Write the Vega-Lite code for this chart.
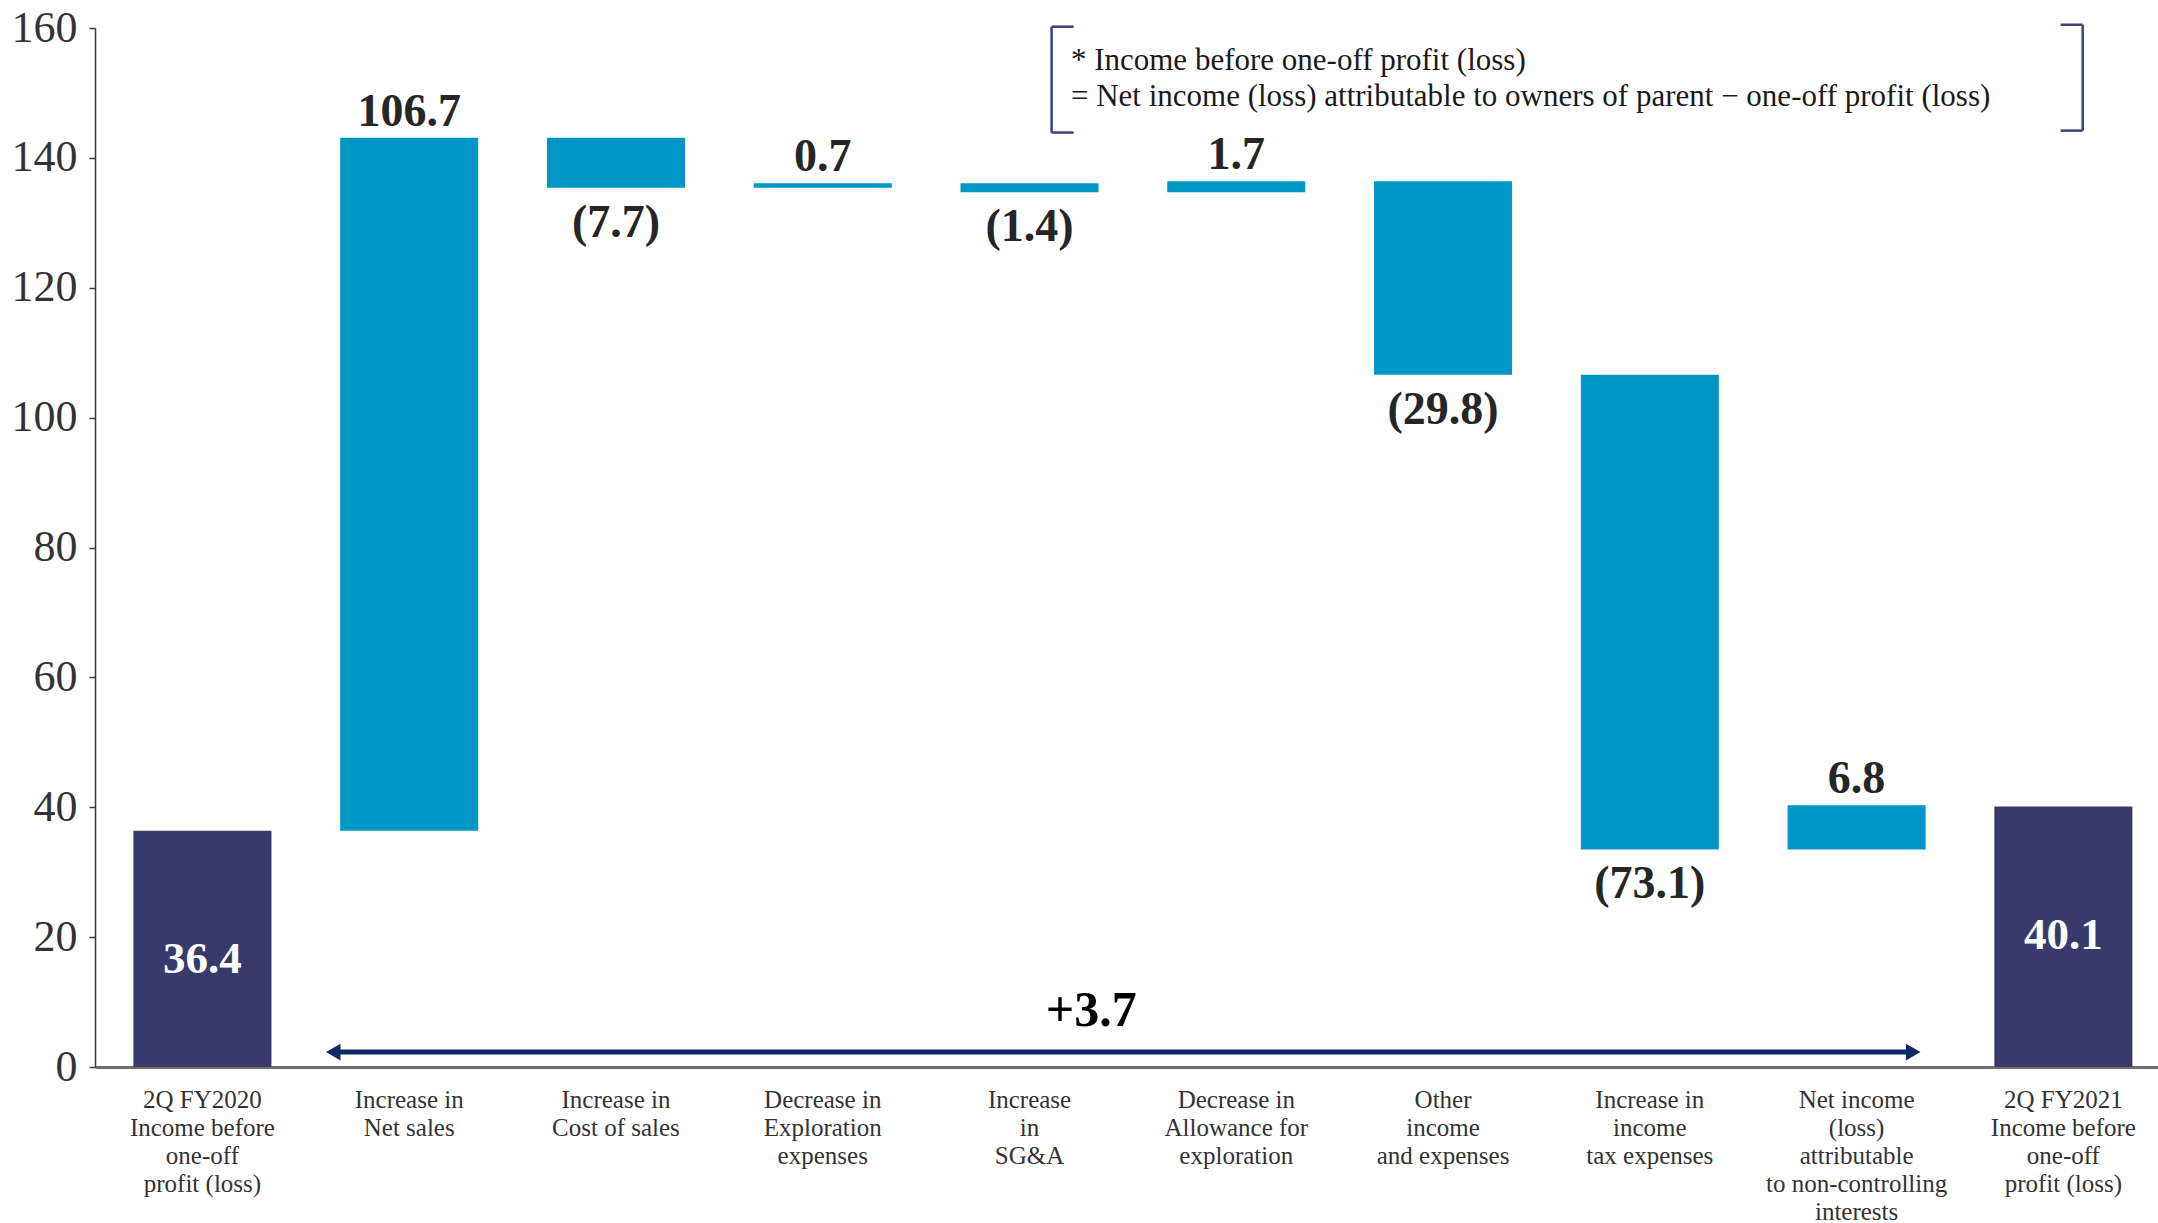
{
  "$schema": "https://vega.github.io/schema/vega-lite/v6.json",
  "width": 2063,
  "height": 1039,
  "autosize": {"type": "none"},
  "padding": {"left": 95, "top": 28, "right": 0, "bottom": 156},
  "background": "white",
  "config": {"view": {"stroke": null}, "font": "Liberation Serif"},
  "datasets": {
    "steps": [
      {"cat": "2Q FY2020|Income before|one-off|profit (loss)", "start": 0, "end": 36.4, "label": "36.4", "kind": "total"},
      {"cat": "Increase in|Net sales", "start": 36.4, "end": 143.1, "label": "106.7", "kind": "up"},
      {"cat": "Increase in|Cost of sales", "start": 143.1, "end": 135.4, "label": "(7.7)", "kind": "down"},
      {"cat": "Decrease in|Exploration|expenses", "start": 135.4, "end": 136.1, "label": "0.7", "kind": "up"},
      {"cat": "Increase|in|SG&A", "start": 136.1, "end": 134.7, "label": "(1.4)", "kind": "down"},
      {"cat": "Decrease in|Allowance for|exploration", "start": 134.7, "end": 136.4, "label": "1.7", "kind": "up"},
      {"cat": "Other|income|and expenses", "start": 136.4, "end": 106.6, "label": "(29.8)", "kind": "down"},
      {"cat": "Increase in|income|tax expenses", "start": 106.6, "end": 33.5, "label": "(73.1)", "kind": "down"},
      {"cat": "Net income|(loss)|attributable|to non-controlling|interests", "start": 33.5, "end": 40.3, "label": "6.8", "kind": "up"},
      {"cat": "2Q FY2021|Income before|one-off|profit (loss)", "start": 0, "end": 40.1, "label": "40.1", "kind": "total"}
    ],
    "arrow": [
      {"from": "Increase in|Net sales", "to": "Net income|(loss)|attributable|to non-controlling|interests", "labelcat": "Increase|in|SG&A", "label": "+3.7"}
    ],
    "notes": [
      {"cat": "Increase|in|SG&A", "lines": ["* Income before one-off profit (loss)", "= Net income (loss) attributable to owners of parent − one-off profit (loss)"]}
    ],
    "bracket": [
      {"side": "left", "cat": "Increase|in|SG&A", "y": 160.2},
      {"side": "left", "cat": "Increase|in|SG&A", "y": 143.9},
      {"side": "right", "cat": "2Q FY2021|Income before|one-off|profit (loss)", "y": 160.5},
      {"side": "right", "cat": "2Q FY2021|Income before|one-off|profit (loss)", "y": 144.2}
    ]
  },
  "layer": [
    {
      "data": {"name": "steps"},
      "mark": {"type": "bar"},
      "encoding": {
        "x": {
          "field": "cat", "type": "nominal", "title": null,
          "scale": {
            "domain": [
              "2Q FY2020|Income before|one-off|profit (loss)",
              "Increase in|Net sales",
              "Increase in|Cost of sales",
              "Decrease in|Exploration|expenses",
              "Increase|in|SG&A",
              "Decrease in|Allowance for|exploration",
              "Other|income|and expenses",
              "Increase in|income|tax expenses",
              "Net income|(loss)|attributable|to non-controlling|interests",
              "2Q FY2021|Income before|one-off|profit (loss)"
            ],
            "paddingInner": 0.3324, "paddingOuter": 0.1548, "align": 0.6
          },
          "axis": {
            "labelExpr": "split(datum.value, '|')",
            "labelAngle": 0, "labelFontSize": 25, "labelLineHeight": 28, "labelColor": "#333333",
            "labelPadding": 20, "labelBaseline": "top", "labelOverlap": false, "labelBound": false, "labelLimit": 0,
            "ticks": false, "domainColor": "#6e6e6e", "domainWidth": 3, "grid": false
          }
        },
        "y": {
          "field": "start", "type": "quantitative", "title": null,
          "scale": {"domain": [0, 160], "nice": false, "zero": true},
          "axis": {
            "values": [0, 20, 40, 60, 80, 100, 120, 140, 160],
            "labelFontSize": 44, "labelColor": "#333333", "labelPadding": 12,
            "tickSize": 6, "tickColor": "#3a3a3a", "tickWidth": 1.5,
            "domainColor": "#3a3a3a", "domainWidth": 1.5, "grid": false
          }
        },
        "y2": {"field": "end"},
        "color": {
          "field": "kind", "type": "nominal", "legend": null,
          "scale": {"domain": ["total", "up", "down"], "range": ["#383a6b", "#0096c6", "#0096c6"]}
        }
      }
    },
    {
      "data": {"name": "steps"},
      "transform": [{"filter": "datum.kind == 'up'"}],
      "mark": {"type": "text", "fontSize": 46, "fontWeight": "bold", "baseline": "alphabetic", "dy": -12, "color": "#262626"},
      "encoding": {
        "x": {"field": "cat", "type": "nominal", "title": null},
        "y": {"field": "end", "type": "quantitative", "title": null},
        "text": {"field": "label"}
      }
    },
    {
      "data": {"name": "steps"},
      "transform": [{"filter": "datum.kind == 'down'"}],
      "mark": {"type": "text", "fontSize": 46, "fontWeight": "bold", "baseline": "alphabetic", "dy": 49, "color": "#262626"},
      "encoding": {
        "x": {"field": "cat", "type": "nominal", "title": null},
        "y": {"field": "end", "type": "quantitative", "title": null},
        "text": {"field": "label"}
      }
    },
    {
      "data": {"name": "steps"},
      "transform": [{"filter": "datum.kind == 'total'"}],
      "mark": {"type": "text", "fontSize": 45, "fontWeight": "bold", "baseline": "middle", "dy": 128, "color": "white"},
      "encoding": {
        "x": {"field": "cat", "type": "nominal", "title": null},
        "y": {"field": "end", "type": "quantitative", "title": null},
        "text": {"field": "label"}
      }
    },
    {
      "data": {"name": "arrow"},
      "mark": {"type": "rule", "strokeWidth": 5, "color": "#0b2a66"},
      "encoding": {
        "x": {"field": "from", "type": "nominal", "title": null, "bandPosition": -0.05},
        "x2": {"field": "to", "bandPosition": 0.91},
        "y": {"datum": 2.3, "type": "quantitative"}
      }
    },
    {
      "data": {"name": "arrow"},
      "mark": {"type": "point", "shape": "triangle-left", "filled": true, "size": 280, "opacity": 1, "color": "#0b2a66"},
      "encoding": {
        "x": {"field": "from", "type": "nominal", "title": null, "bandPosition": -0.05},
        "y": {"datum": 2.3, "type": "quantitative"}
      }
    },
    {
      "data": {"name": "arrow"},
      "mark": {"type": "point", "shape": "triangle-right", "filled": true, "size": 280, "opacity": 1, "color": "#0b2a66"},
      "encoding": {
        "x": {"field": "to", "type": "nominal", "title": null, "bandPosition": 0.91},
        "y": {"datum": 2.3, "type": "quantitative"}
      }
    },
    {
      "data": {"name": "arrow"},
      "mark": {"type": "text", "fontSize": 50, "fontWeight": "bold", "baseline": "middle", "color": "#000000"},
      "encoding": {
        "x": {"field": "labelcat", "type": "nominal", "title": null, "bandPosition": 0.947},
        "y": {"datum": 8.6, "type": "quantitative"},
        "text": {"field": "label"}
      }
    },
    {
      "data": {"name": "notes"},
      "mark": {"type": "text", "fontSize": 31, "align": "left", "baseline": "middle", "lineHeight": 36, "color": "#1a1a1a"},
      "encoding": {
        "x": {"field": "cat", "type": "nominal", "title": null, "bandPosition": 0.8},
        "y": {"datum": 154.9, "type": "quantitative"},
        "text": {"field": "lines"}
      }
    },
    {
      "data": {"name": "bracket"},
      "transform": [{"filter": "datum.side == 'left'"}],
      "mark": {"type": "rule", "strokeWidth": 2.5, "color": "#3d4278"},
      "encoding": {
        "x": {"field": "cat", "type": "nominal", "title": null, "bandPosition": 0.66},
        "y": {"aggregate": "min", "field": "y", "type": "quantitative", "title": null},
        "y2": {"aggregate": "max", "field": "y"}
      }
    },
    {
      "data": {"name": "bracket"},
      "transform": [{"filter": "datum.side == 'left'"}],
      "mark": {"type": "rule", "strokeWidth": 2.5, "color": "#3d4278"},
      "encoding": {
        "x": {"field": "cat", "type": "nominal", "title": null, "bandPosition": 0.66},
        "x2": {"field": "cat", "bandPosition": 0.82},
        "y": {"field": "y", "type": "quantitative", "title": null}
      }
    },
    {
      "data": {"name": "bracket"},
      "transform": [{"filter": "datum.side == 'right'"}],
      "mark": {"type": "rule", "strokeWidth": 2.5, "color": "#3d4278"},
      "encoding": {
        "x": {"field": "cat", "type": "nominal", "title": null, "bandPosition": 0.64},
        "y": {"aggregate": "min", "field": "y", "type": "quantitative", "title": null},
        "y2": {"aggregate": "max", "field": "y"}
      }
    },
    {
      "data": {"name": "bracket"},
      "transform": [{"filter": "datum.side == 'right'"}],
      "mark": {"type": "rule", "strokeWidth": 2.5, "color": "#3d4278"},
      "encoding": {
        "x": {"field": "cat", "type": "nominal", "title": null, "bandPosition": 0.48},
        "x2": {"field": "cat", "bandPosition": 0.64},
        "y": {"field": "y", "type": "quantitative", "title": null}
      }
    }
  ]
}
